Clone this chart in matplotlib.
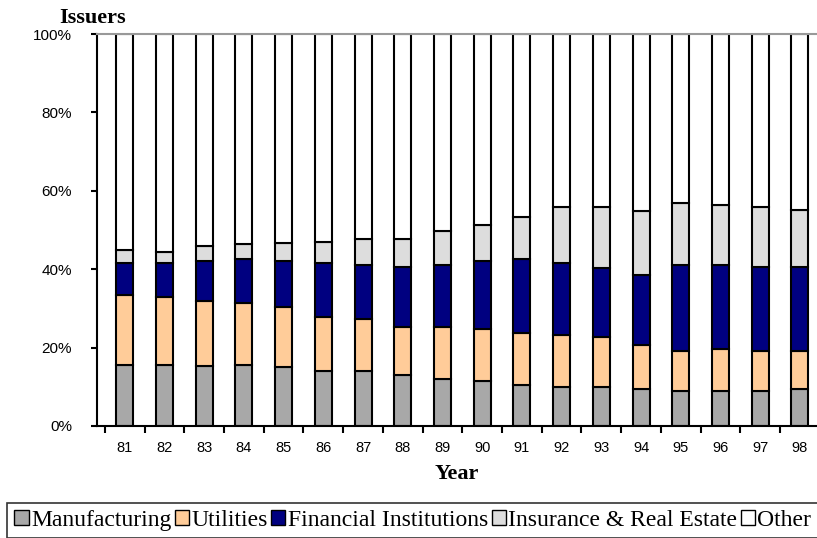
import numpy as np
import matplotlib.pyplot as plt
from matplotlib.patches import Patch

years = ['81', '82', '83', '84', '85', '86', '87', '88', '89',
         '90', '91', '92', '93', '94', '95', '96', '97', '98']
# cumulative tops [%]
top_manuf = [15.6, 15.6, 15.2, 15.6, 15.1, 14.1, 14.1, 13.1, 12.0,
             11.6, 10.5, 10.0, 10.0, 9.5, 9.0, 9.0, 9.0, 9.5]
top_util = [33.3, 32.9, 32.0, 31.4, 30.3, 27.7, 27.2, 25.3, 25.3,
            24.7, 23.7, 23.2, 22.7, 20.7, 19.1, 19.6, 19.1, 19.1]
top_fin = [41.6, 41.6, 42.1, 42.6, 42.1, 41.7, 41.1, 40.6, 41.1,
           42.1, 42.7, 41.7, 40.2, 38.6, 41.1, 41.1, 40.6, 40.6]
top_ins = [44.9, 44.4, 45.9, 46.3, 46.6, 47.0, 47.8, 47.8, 49.7,
           51.2, 53.3, 55.9, 55.9, 54.9, 57.0, 56.5, 55.9, 55.2]

manuf = np.array(top_manuf)
util = np.array(top_util) - np.array(top_manuf)
fin = np.array(top_fin) - np.array(top_util)
ins = np.array(top_ins) - np.array(top_fin)
other = 100.0 - np.array(top_ins)

names = ['Manufacturing', 'Utilities', 'Financial Institutions',
         'Insurance & Real Estate', 'Other']
colors = ['#a8a8a8', '#ffcc99', '#000080', '#dddddd', '#ffffff']

fig = plt.figure(figsize=(8.17, 5.38), dpi=100)
ax = fig.add_axes([0.1187, 0.2082, 0.8813, 0.7286])

x = np.arange(len(years))
bottom = np.zeros(len(years))
for vals, c in zip([manuf, util, fin, ins, other], colors):
    ax.bar(x, vals, bottom=bottom, width=0.43, color=c,
           edgecolor='black', linewidth=1.5)
    bottom = bottom + vals

ax.set_xlim(-0.7, len(years) - 1 + 0.43)
ax.set_ylim(0, 100)
ax.set_yticks([0, 20, 40, 60, 80, 100])
ax.set_yticklabels(['0%', '20%', '40%', '60%', '80%', '100%'],
                   family='Liberation Sans', fontsize=11)
ax.set_xticks(x)
ax.set_xticklabels(years, family='Liberation Sans', fontsize=10.5)
ax.tick_params(axis='x', length=0, pad=11)
ax.set_xticks(np.arange(-0.5, len(years) - 0.5, 1), minor=True)
ax.tick_params(axis='x', which='minor', length=5, width=1.5, direction='out')
ax.tick_params(axis='y', length=4, width=1.5, direction='out', pad=14)

ax.spines['right'].set_visible(False)
ax.spines['top'].set_color('#999999')
ax.spines['top'].set_linewidth(1.5)
ax.spines['left'].set_linewidth(1.5)
ax.spines['bottom'].set_linewidth(1.5)

ax.set_xlabel('Year', family='Liberation Serif', fontweight='bold',
              fontsize=16, labelpad=6)
fig.text(0.073, 0.948, 'Issuers', family='Liberation Serif',
         fontweight='bold', fontsize=16, ha='left', va='bottom')

handles = [Patch(facecolor=c, edgecolor='black', linewidth=1) for c in colors]
leg = fig.legend(handles, names, loc='lower left',
                 bbox_to_anchor=(0.009, 0.0), ncol=5, frameon=True,
                 fancybox=False, edgecolor='black',
                 prop={'family': 'Liberation Serif', 'size': 17},
                 handlelength=0.6, handleheight=0.6, handletextpad=0.1,
                 columnspacing=0.15, borderpad=0.3, borderaxespad=0)
leg.get_frame().set_linewidth(1.2)

fig.savefig('out.png', dpi=100)
